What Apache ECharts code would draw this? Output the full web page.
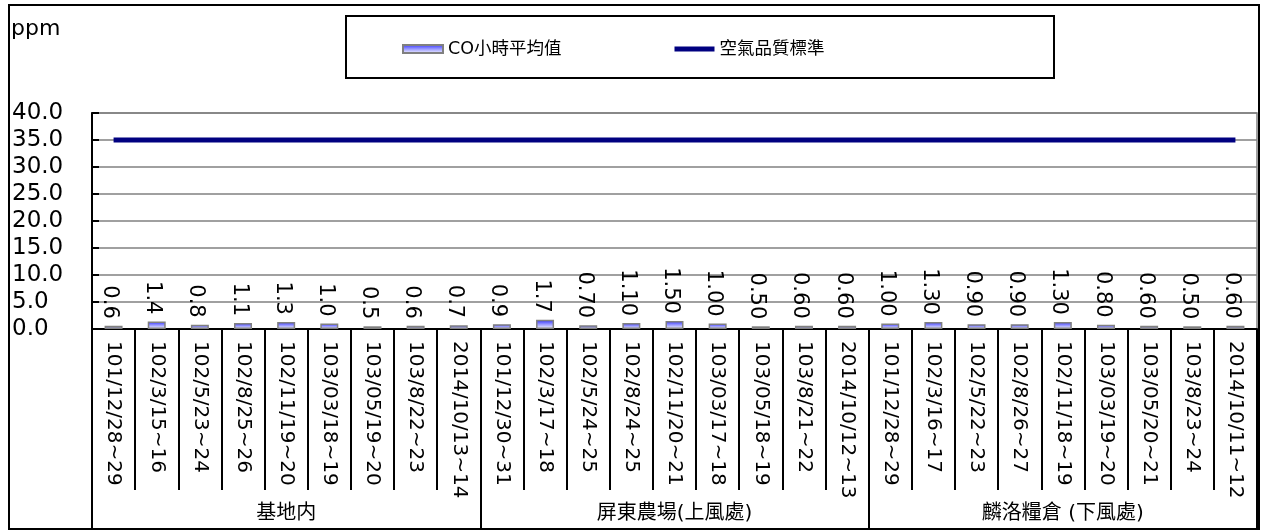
<!DOCTYPE html>
<html>
<head>
<meta charset="utf-8">
<script src="https://cdn.jsdelivr.net/npm/echarts@6/dist/echarts.min.js"></script>
<style>
html,body{margin:0;padding:0;background:#fff;}
#c{width:1261px;height:532px;}
</style>
</head>
<body>
<div id="c"></div>
<script>
var categories = [
  '101/12/28~29','102/3/15~16','102/5/23~24','102/8/25~26','102/11/19~20','103/03/18~19','103/05/19~20','103/8/22~23','2014/10/13~14',
  '101/12/30~31','102/3/17~18','102/5/24~25','102/8/24~25','102/11/20~21','103/03/17~18','103/05/18~19','103/8/21~22','2014/10/12~13',
  '101/12/28~29','102/3/16~17','102/5/22~23','102/8/26~27','102/11/18~19','103/03/19~20','103/05/20~21','103/8/23~24','2014/10/11~12'
];
var groups = ['基地内', '屏東農場(上風處)', '麟洛糧倉 (下風處)'];
var coValues = [
  0.6, 1.4, 0.8, 1.1, 1.3, 1.0, 0.5, 0.6, 0.7,
  0.9, 1.7, 0.7, 1.1, 1.5, 1.0, 0.5, 0.6, 0.6,
  1.0, 1.3, 0.9, 0.9, 1.3, 0.8, 0.6, 0.5, 0.6
];
var coLabels = [
  '0.6','1.4','0.8','1.1','1.3','1.0','0.5','0.6','0.7',
  '0.9','1.7','0.70','1.10','1.50','1.00','0.50','0.60','0.60',
  '1.00','1.30','0.90','0.90','1.30','0.80','0.60','0.50','0.60'
];
var standardValues = [
  35, 35, 35, 35, 35, 35, 35, 35, 35,
  35, 35, 35, 35, 35, 35, 35, 35, 35,
  35, 35, 35, 35, 35, 35, 35, 35, 35
];
var yTicks = { min: 0, max: 40, interval: 5 };

var FONT = "'DejaVu Sans', 'Noto Sans CJK TC', sans-serif";
var chart = echarts.init(document.getElementById('c'));
chart.setOption({
  animation: false,
  backgroundColor: '#fff',
  textStyle: { fontFamily: FONT, color: '#000' },
  title: {
    text: 'ppm', left: 11, top: 18, padding: 0,
    textStyle: { fontFamily: FONT, fontSize: 22, fontWeight: 'normal', color: '#000' }
  },
  graphic: [
    { type: 'rect', shape: { x: 9, y: 5, width: 1250, height: 524 }, style: { fill: 'none', stroke: '#000', lineWidth: 2 }, z: 100 },
    { type: 'rect', shape: { x: 346, y: 16, width: 708, height: 62 }, style: { fill: 'none', stroke: '#000', lineWidth: 2 }, z: 100 }
  ],
  legend: {
    left: 402, top: 39, padding: 0, itemGap: 113,
    itemWidth: 40, itemHeight: 8,
    textStyle: { fontFamily: FONT, fontSize: 17.5, color: '#000', lineHeight: 20 },
    data: [
      { name: 'CO小時平均值', icon: 'rect' },
      { name: '空氣品質標準', icon: 'path://M0,0M40,8M0,1.5L40,1.5L40,6.5L0,6.5Z',
        itemStyle: { color: '#000080', borderWidth: 0 } }
    ]
  },
  grid: {
    left: 92, right: 4, top: 113, bottom: 203,
    show: true, borderColor: '#808080', borderWidth: 1.5, backgroundColor: 'transparent'
  },
  xAxis: [
    {
      type: 'category', position: 'bottom', data: categories,
      axisLine: { show: true, lineStyle: { color: '#000', width: 2 } },
      axisTick: { show: true, interval: 0, length: 161, lineStyle: { color: '#000', width: 2 } },
      axisLabel: { interval: 0, rotate: -90, margin: 12, fontSize: 20, color: '#000', fontFamily: FONT },
      splitLine: { show: false }
    },
    {
      type: 'category', position: 'bottom', data: groups,
      axisLine: { show: false },
      axisTick: { show: true, interval: 0, length: 199, lineStyle: { color: '#000', width: 2 } },
      axisLabel: { interval: 0, margin: 175, fontSize: 20, color: '#000', fontFamily: FONT },
      splitLine: { show: false }
    }
  ],
  yAxis: {
    type: 'value', min: yTicks.min, max: yTicks.max, interval: yTicks.interval,
    axisLine: { show: true, lineStyle: { color: '#000', width: 2 } },
    axisTick: { show: true, inside: true, length: 7, lineStyle: { color: '#000', width: 2 } },
    axisLabel: {
      align: 'left', margin: 80, fontSize: 23, color: '#000', fontFamily: FONT,
      formatter: function (v) { return v.toFixed(1); }
    },
    splitLine: { show: true, lineStyle: { color: '#808080', width: 1.5 } }
  },
  series: [
    {
      name: 'CO小時平均值', type: 'bar', xAxisIndex: 0, barWidth: 18,
      data: coValues,
      itemStyle: {
        color: new echarts.graphic.LinearGradient(0, 0, 0, 1, [
          { offset: 0, color: '#2a2aff' },
          { offset: 0.5, color: '#9a9aff' },
          { offset: 1, color: '#ffffff' }
        ]),
        borderColor: '#808080', borderWidth: 1.5
      },
      label: { show: false }
    },
    {
      name: 'labels', type: 'custom', xAxisIndex: 0, z: 10,
      data: coValues.map(function (v, i) { return [i, v]; }),
      encode: { x: 0, y: 1 },
      renderItem: function (params, api) {
        var pt = api.coord([api.value(0), api.value(1)]);
        return {
          type: 'text',
          x: pt[0] - 4,
          y: pt[1] - 7,
          rotation: -Math.PI / 2,
          style: {
            text: coLabels[params.dataIndex],
            font: "21px 'DejaVu Sans', sans-serif",
            fill: '#000',
            align: 'right',
            verticalAlign: 'middle'
          }
        };
      }
    },
    {
      name: '空氣品質標準', type: 'line', xAxisIndex: 0, data: standardValues,
      symbol: 'none', showSymbol: false, z: 5,
      itemStyle: { color: '#000080' },
      lineStyle: { color: '#000080', width: 5 }
    }
  ]
});
</script>
</body>
</html>
